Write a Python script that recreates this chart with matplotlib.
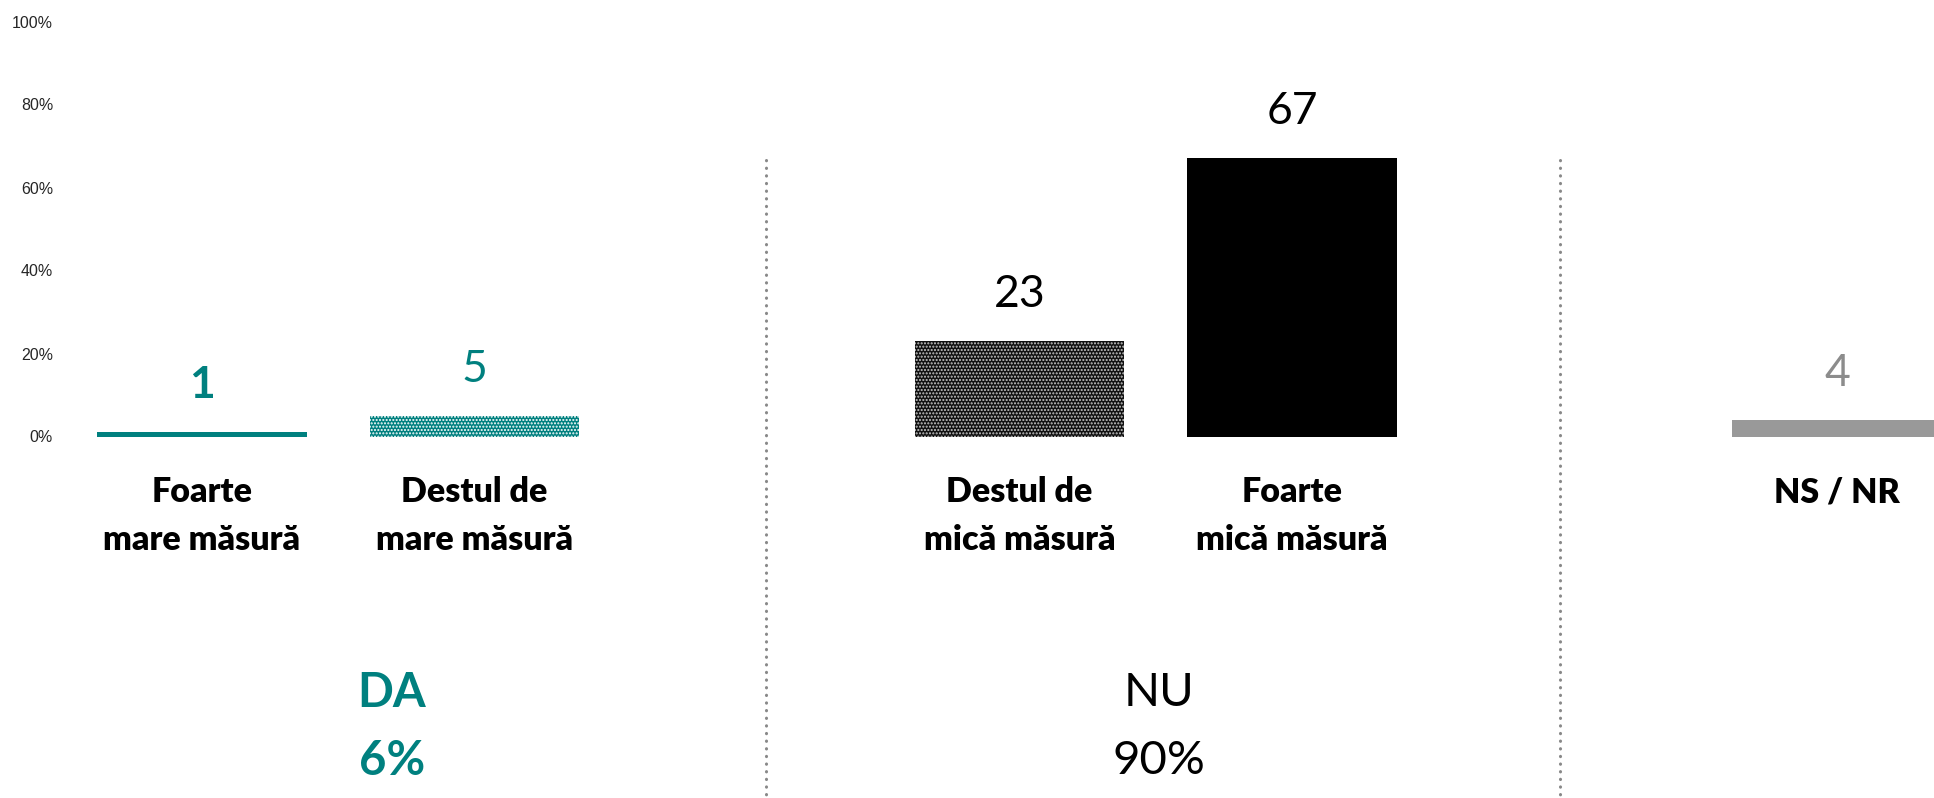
import matplotlib
matplotlib.use("Agg")
import matplotlib.pyplot as plt

# ---- data ----
categories = [["Foarte", "mare măsură"], ["Destul de", "mare măsură"],
              ["Destul de", "mică măsură"], ["Foarte", "mică măsură"],
              ["NS / NR"]]
values = [1, 5, 23, 67, 4]
group_names = ["DA", "NU"]
group_totals = ["6%", "90%"]
yticks = [0, 20, 40, 60, 80, 100]
ytick_labels = ["0%", "20%", "40%", "60%", "80%", "100%"]

# ---- style ----
TEAL = "#00807F"
FONT = ["Lato", "DejaVu Sans"]
W, H = 1934, 798
fig = plt.figure(figsize=(W / 100, H / 100), dpi=100)

# pixel geometry
x0_px, step_px = 202, 272.5
y0_px, y100_px = 436.5, 21.5
ax_left_px = 60
xmin = (ax_left_px - x0_px) / step_px
xmax = (W - x0_px) / step_px
ax = fig.add_axes([ax_left_px / W, (H - y0_px) / H, (W - ax_left_px) / W, (y0_px - y100_px) / H])
ax.set_xlim(xmin, xmax)
ax.set_ylim(0, 100)
ppu = (y0_px - y100_px) / 100.0  # pixels per y unit


def py(pix):
    return (y0_px - pix) / ppu


positions = [0, 1, 3, 4, 6]
faces = [TEAL, TEAL, "#111111", "black", "#999999"]
hatches = [None, ".....", ".....", None, None]
hatch_cols = [TEAL, "white", "#c8c8c8", "black", "#999999"]
label_cols = [TEAL, TEAL, "black", "black", "#8c8c8c"]
label_weights = ["bold", "normal", "normal", "normal", "normal"]

for pos, v, fc, h, hc in zip(positions, values, faces, hatches, hatch_cols):
    ax.bar(pos, v, width=0.77, color=fc, edgecolor=hc, hatch=h, linewidth=0, clip_on=True)

for pos, v, col, wt in zip(positions, values, label_cols, label_weights):
    ax.annotate(str(v), (pos, v), xytext=(0, 24.5), textcoords="offset points",
                ha="center", va="baseline", fontsize=32, color=col,
                fontweight=wt, family=FONT, annotation_clip=False)

# category labels
for pos, lines in zip(positions, categories):
    ys = [492, 540]
    for line, ypix in zip(lines, ys):
        ax.text(pos, py(ypix), line, ha="center", va="center", fontsize=24.5,
                fontweight="heavy", family=FONT, color="black", clip_on=False)

# group labels
group_x = [(392 - x0_px) / step_px, (1159 - x0_px) / step_px]
group_cols = [TEAL, "black"]
group_wts = ["bold", "normal"]
for gx, name, tot, col, wt in zip(group_x, group_names, group_totals, group_cols, group_wts):
    ax.text(gx, py(693), name, ha="center", va="center", fontsize=34,
            fontweight=wt, color=col, family=FONT, clip_on=False)
    ax.text(gx, py(761), tot, ha="center", va="center", fontsize=34,
            fontweight=wt, color=col, family=FONT, clip_on=False)

# dotted separators
for sx_px in [766, 1560]:
    sx = (sx_px - x0_px) / step_px
    ax.plot([sx, sx], [py(160), py(H + 5)], color="#888888", lw=2.2,
            linestyle=(0, (0.1, 2.4)), dash_capstyle="round", clip_on=False)

# axes styling
for s in ax.spines.values():
    s.set_visible(False)
ax.set_xticks([])
ax.set_yticks(yticks)
ax.set_yticklabels(ytick_labels, family=["Liberation Sans", "DejaVu Sans"],
                   fontsize=11.5, color="#262626")
ax.tick_params(axis="y", length=0, pad=5)

fig.savefig("out.png", dpi=100)
